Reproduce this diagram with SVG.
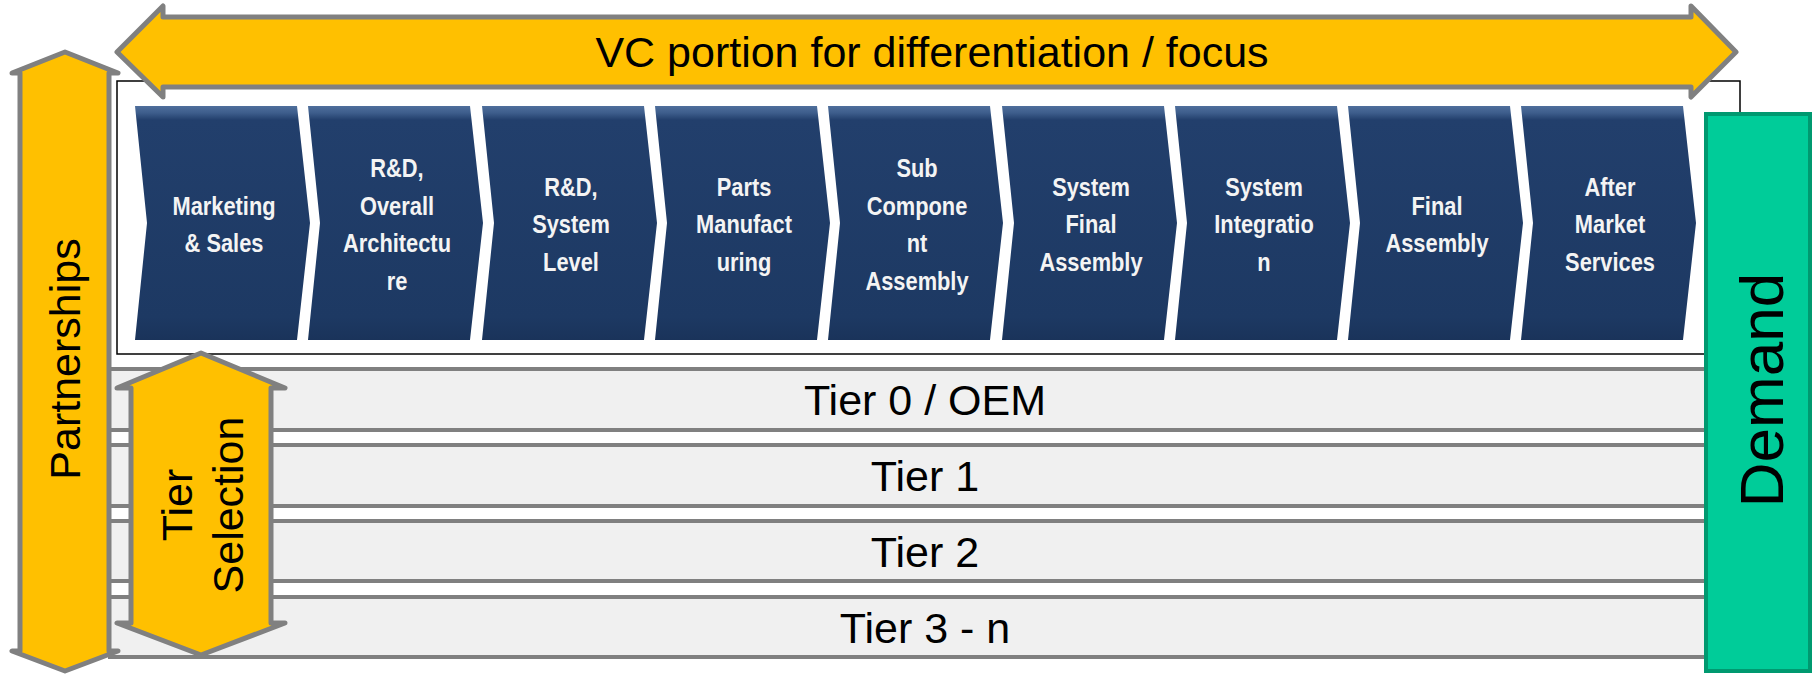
<svg xmlns="http://www.w3.org/2000/svg" width="1816" height="674" viewBox="0 0 1816 674">
  <style>
    .arrow { fill: #FFC000; stroke: #808080; stroke-width: 5; stroke-linejoin: round; }
    .lbl { font-family: "Liberation Sans", Arial, sans-serif; fill: #000; }
    .big { font-size: 43px; }
    .chev-t { font-family: "Liberation Sans", Arial, sans-serif; font-size: 26px; font-weight: bold; fill: #F4F4F4; text-anchor: middle; }
    .row { fill: #F0F0F0; }
    .rowline { stroke: #808080; stroke-width: 4; }
  </style>
  <defs>
    <linearGradient id="chevGrad" x1="0" y1="0" x2="0" y2="1">
      <stop offset="0" stop-color="#4F6F9C"/>
      <stop offset="0.03" stop-color="#3D5D8B"/>
      <stop offset="0.06" stop-color="#223F6C"/>
      <stop offset="0.9" stop-color="#1D3963"/>
      <stop offset="1" stop-color="#1A335A"/>
    </linearGradient>
    <polygon id="chev" points="0,106 162,106 175,223 162,340 0,340 12,223" fill="url(#chevGrad)"/>
  </defs>

  <!-- frame around the value chain -->
  <rect id="frame" x="117" y="81" width="1623" height="273" fill="#FFFFFF" stroke="#000000" stroke-width="1.5"/>

  <!-- value chain chevrons -->
  <g id="chevron-1">
    <use href="#chev" transform="translate(135,0)"/>
    <g transform="translate(224,0) scale(0.84,1)">
      <text class="chev-t" x="0" y="215">Marketing</text>
      <text class="chev-t" x="0" y="252">&amp; Sales</text>
    </g>
  </g>
  <g id="chevron-2">
    <use href="#chev" transform="translate(308,0)"/>
    <g transform="translate(397,0) scale(0.84,1)">
      <text class="chev-t" x="0" y="177">R&amp;D,</text>
      <text class="chev-t" x="0" y="215">Overall</text>
      <text class="chev-t" x="0" y="252">Architectu</text>
      <text class="chev-t" x="0" y="290">re</text>
    </g>
  </g>
  <g id="chevron-3">
    <use href="#chev" transform="translate(482,0)"/>
    <g transform="translate(571,0) scale(0.84,1)">
      <text class="chev-t" x="0" y="196">R&amp;D,</text>
      <text class="chev-t" x="0" y="233.5">System</text>
      <text class="chev-t" x="0" y="271">Level</text>
    </g>
  </g>
  <g id="chevron-4">
    <use href="#chev" transform="translate(655,0)"/>
    <g transform="translate(744,0) scale(0.84,1)">
      <text class="chev-t" x="0" y="196">Parts</text>
      <text class="chev-t" x="0" y="233.5">Manufact</text>
      <text class="chev-t" x="0" y="271">uring</text>
    </g>
  </g>
  <g id="chevron-5">
    <use href="#chev" transform="translate(828,0)"/>
    <g transform="translate(917,0) scale(0.84,1)">
      <text class="chev-t" x="0" y="177">Sub</text>
      <text class="chev-t" x="0" y="215">Compone</text>
      <text class="chev-t" x="0" y="252">nt</text>
      <text class="chev-t" x="0" y="290">Assembly</text>
    </g>
  </g>
  <g id="chevron-6">
    <use href="#chev" transform="translate(1002,0)"/>
    <g transform="translate(1091,0) scale(0.84,1)">
      <text class="chev-t" x="0" y="196">System</text>
      <text class="chev-t" x="0" y="233.5">Final</text>
      <text class="chev-t" x="0" y="271">Assembly</text>
    </g>
  </g>
  <g id="chevron-7">
    <use href="#chev" transform="translate(1175,0)"/>
    <g transform="translate(1264,0) scale(0.84,1)">
      <text class="chev-t" x="0" y="196">System</text>
      <text class="chev-t" x="0" y="233.5">Integratio</text>
      <text class="chev-t" x="0" y="271">n</text>
    </g>
  </g>
  <g id="chevron-8">
    <use href="#chev" transform="translate(1348,0)"/>
    <g transform="translate(1437,0) scale(0.84,1)">
      <text class="chev-t" x="0" y="215">Final</text>
      <text class="chev-t" x="0" y="252">Assembly</text>
    </g>
  </g>
  <g id="chevron-9">
    <use href="#chev" transform="translate(1521,0)"/>
    <g transform="translate(1610,0) scale(0.84,1)">
      <text class="chev-t" x="0" y="196">After</text>
      <text class="chev-t" x="0" y="233.5">Market</text>
      <text class="chev-t" x="0" y="271">Services</text>
    </g>
  </g>

  <!-- tier rows -->
  <g id="tier-0">
    <rect class="row" x="108" y="369" width="1634" height="61"/>
    <line class="rowline" x1="108" y1="369" x2="1742" y2="369"/>
    <line class="rowline" x1="108" y1="430" x2="1742" y2="430"/>
    <text class="lbl big" x="925" y="415" text-anchor="middle">Tier 0 / OEM</text>
  </g>
  <g id="tier-1">
    <rect class="row" x="108" y="445" width="1634" height="61"/>
    <line class="rowline" x1="108" y1="445" x2="1742" y2="445"/>
    <line class="rowline" x1="108" y1="506" x2="1742" y2="506"/>
    <text class="lbl big" x="925" y="491" text-anchor="middle">Tier 1</text>
  </g>
  <g id="tier-2">
    <rect class="row" x="108" y="521" width="1634" height="60"/>
    <line class="rowline" x1="108" y1="521" x2="1742" y2="521"/>
    <line class="rowline" x1="108" y1="581" x2="1742" y2="581"/>
    <text class="lbl big" x="925" y="567" text-anchor="middle">Tier 2</text>
  </g>
  <g id="tier-3">
    <rect class="row" x="108" y="597" width="1634" height="60"/>
    <line class="rowline" x1="108" y1="597" x2="1742" y2="597"/>
    <line class="rowline" x1="108" y1="657" x2="1742" y2="657"/>
    <text class="lbl big" x="925" y="643" text-anchor="middle">Tier 3 - n</text>
  </g>

  <!-- Partnerships vertical double arrow -->
  <g id="partnerships">
    <path class="arrow" d="M65,52 L118,73 L109,73 L109,651 L118,651 L65,671 L12,651 L20,651 L20,73 L12,73 Z"/>
    <text class="lbl big" transform="translate(80,359) rotate(-90)" text-anchor="middle">Partnerships</text>
  </g>

  <!-- Tier Selection vertical double arrow -->
  <g id="tier-selection">
    <path class="arrow" d="M201,353 L285,388 L271,388 L271,623 L285,623 L201,655 L117,623 L131,623 L131,388 L117,388 Z"/>
    <text class="lbl big" transform="translate(192,505) rotate(-90)" text-anchor="middle">Tier</text>
    <text class="lbl big" transform="translate(243,505) rotate(-90)" text-anchor="middle">Selection</text>
  </g>

  <!-- VC portion horizontal double arrow -->
  <g id="vc-portion">
    <path class="arrow" d="M117,52 L163,6 L163,17 L1691,17 L1691,6 L1736,52 L1691,97 L1691,87 L163,87 L163,97 Z"/>
    <text class="lbl big" x="932" y="67" text-anchor="middle">VC portion for differentiation / focus</text>
  </g>

  <!-- Demand -->
  <g id="demand">
    <rect x="1706" y="114" width="104" height="557" fill="#00CC99" stroke="#009970" stroke-width="4"/>
    <text class="lbl" font-size="62" transform="translate(1783,390) rotate(-90)" text-anchor="middle">Demand</text>
  </g>

  <g id="connectors"/>
</svg>
